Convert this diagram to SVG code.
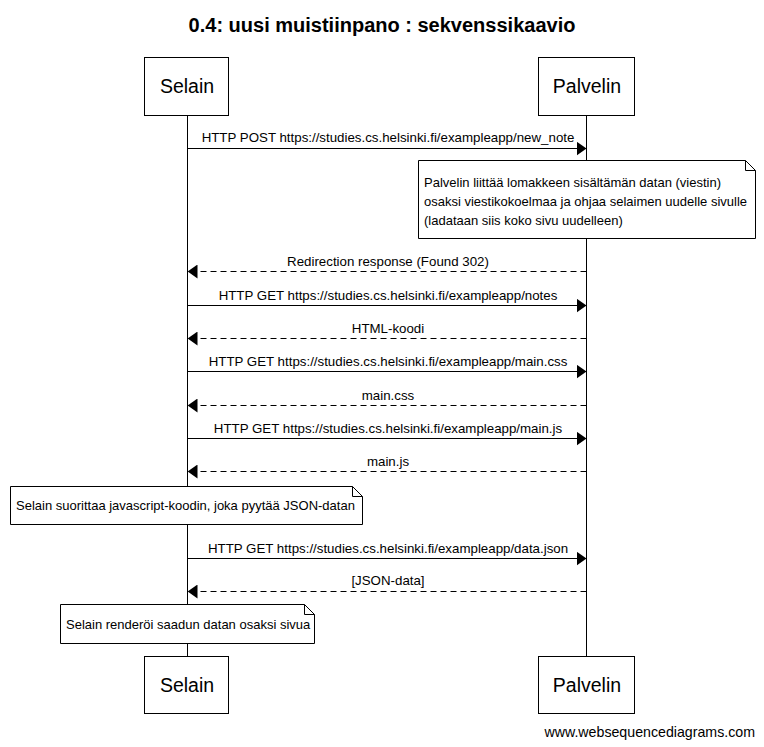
<svg xmlns="http://www.w3.org/2000/svg" width="764" height="747" viewBox="0 0 764 747">
<style>
text{font-family:"Liberation Sans",Arial,sans-serif;fill:#000}
.t{font-size:20px;font-weight:bold;text-anchor:middle}
.p{font-size:19.5px;text-anchor:middle}
.m{font-size:13.3px;text-anchor:middle}
.n{font-size:13px}
.f{font-size:14.2px;text-anchor:end}
.box{fill:#fff;stroke:#000;stroke-width:1}
.life{stroke:#000;stroke-width:1}
.sol{stroke:#000;stroke-width:1;fill:none}
.dash{stroke:#000;stroke-width:1;fill:none;stroke-dasharray:6,4}
.note{fill:#fff;stroke:#000;stroke-width:1}
.fold{fill:none;stroke:#000;stroke-width:1}
</style>
<defs>
<marker id="ah" viewBox="0 0 10 14" refX="10" refY="7" markerWidth="10" markerHeight="14" markerUnits="userSpaceOnUse" orient="auto">
<path d="M0,0 L10,7 L0,14 Z" fill="#000"/>
</marker>
</defs>
<rect width="764" height="747" fill="#fff"/>
<text class="t" x="382" y="32">0.4: uusi muistiinpano : sekvenssikaavio</text>
<g id="lifelines">
<line class="life" x1="187.5" y1="115" x2="187.5" y2="657"/>
<line class="life" x1="586.5" y1="115" x2="586.5" y2="657"/>
</g>
<g id="selain-top"><rect class="box" x="144.5" y="57.5" width="84" height="58"/><text class="p" x="187" y="93">Selain</text></g>
<g id="palvelin-top"><rect class="box" x="538.5" y="57.5" width="96" height="58"/><text class="p" x="587" y="93">Palvelin</text></g>
<g id="selain-bottom"><rect class="box" x="144.5" y="656.5" width="84" height="57"/><text class="p" x="187" y="692">Selain</text></g>
<g id="palvelin-bottom"><rect class="box" x="538.5" y="656.5" width="96" height="57"/><text class="p" x="587" y="692">Palvelin</text></g>
<g id="connectors">
<line class="sol" x1="187.5" y1="148.5" x2="586.5" y2="148.5" marker-end="url(#ah)"/>
<text class="m" x="388" y="142">HTTP POST https://studies.cs.helsinki.fi/exampleapp/new_note</text>
<line class="dash" x1="586.5" y1="271.5" x2="187.5" y2="271.5" marker-end="url(#ah)"/>
<text class="m" x="388" y="266">Redirection response (Found 302)</text>
<line class="sol" x1="187.5" y1="305.5" x2="586.5" y2="305.5" marker-end="url(#ah)"/>
<text class="m" x="388" y="300">HTTP GET https://studies.cs.helsinki.fi/exampleapp/notes</text>
<line class="dash" x1="586.5" y1="338.5" x2="187.5" y2="338.5" marker-end="url(#ah)"/>
<text class="m" x="388" y="333">HTML-koodi</text>
<line class="sol" x1="187.5" y1="371.5" x2="586.5" y2="371.5" marker-end="url(#ah)"/>
<text class="m" x="388" y="366">HTTP GET https://studies.cs.helsinki.fi/exampleapp/main.css</text>
<line class="dash" x1="586.5" y1="405.5" x2="187.5" y2="405.5" marker-end="url(#ah)"/>
<text class="m" x="388" y="400">main.css</text>
<line class="sol" x1="187.5" y1="438.5" x2="586.5" y2="438.5" marker-end="url(#ah)"/>
<text class="m" x="388" y="433">HTTP GET https://studies.cs.helsinki.fi/exampleapp/main.js</text>
<line class="dash" x1="586.5" y1="471.5" x2="187.5" y2="471.5" marker-end="url(#ah)"/>
<text class="m" x="388" y="466">main.js</text>
<line class="sol" x1="187.5" y1="558.5" x2="586.5" y2="558.5" marker-end="url(#ah)"/>
<text class="m" x="388" y="553">HTTP GET https://studies.cs.helsinki.fi/exampleapp/data.json</text>
<line class="dash" x1="586.5" y1="591.5" x2="187.5" y2="591.5" marker-end="url(#ah)"/>
<text class="m" x="388" y="585">[JSON-data]</text>
</g>
<g id="note1">
<path class="note" d="M418.5,160.5 H745.5 L755.5,170.5 V238.5 H418.5 Z"/>
<path class="fold" d="M745.5,160.5 V170.5 H755.5"/>
<text class="n" x="424" y="187">Palvelin liittää lomakkeen sisältämän datan (viestin)</text>
<text class="n" x="424" y="206">osaksi viestikokoelmaa ja ohjaa selaimen uudelle sivulle</text>
<text class="n" x="424" y="225">(ladataan siis koko sivu uudelleen)</text>
</g>
<g id="note2">
<path class="note" d="M10.5,486.5 H352.5 L362.5,496.5 V524.5 H10.5 Z"/>
<path class="fold" d="M352.5,486.5 V496.5 H362.5"/>
<text class="n" x="16" y="510">Selain suorittaa javascript-koodin, joka pyytää JSON-datan</text>
</g>
<g id="note3">
<path class="note" d="M60.5,604.5 H304.5 L314.5,614.5 V643.5 H60.5 Z"/>
<path class="fold" d="M304.5,604.5 V614.5 H314.5"/>
<text class="n" x="66" y="629">Selain renderöi saadun datan osaksi sivua</text>
</g>
<text class="f" x="755" y="737">www.websequencediagrams.com</text>
</svg>
